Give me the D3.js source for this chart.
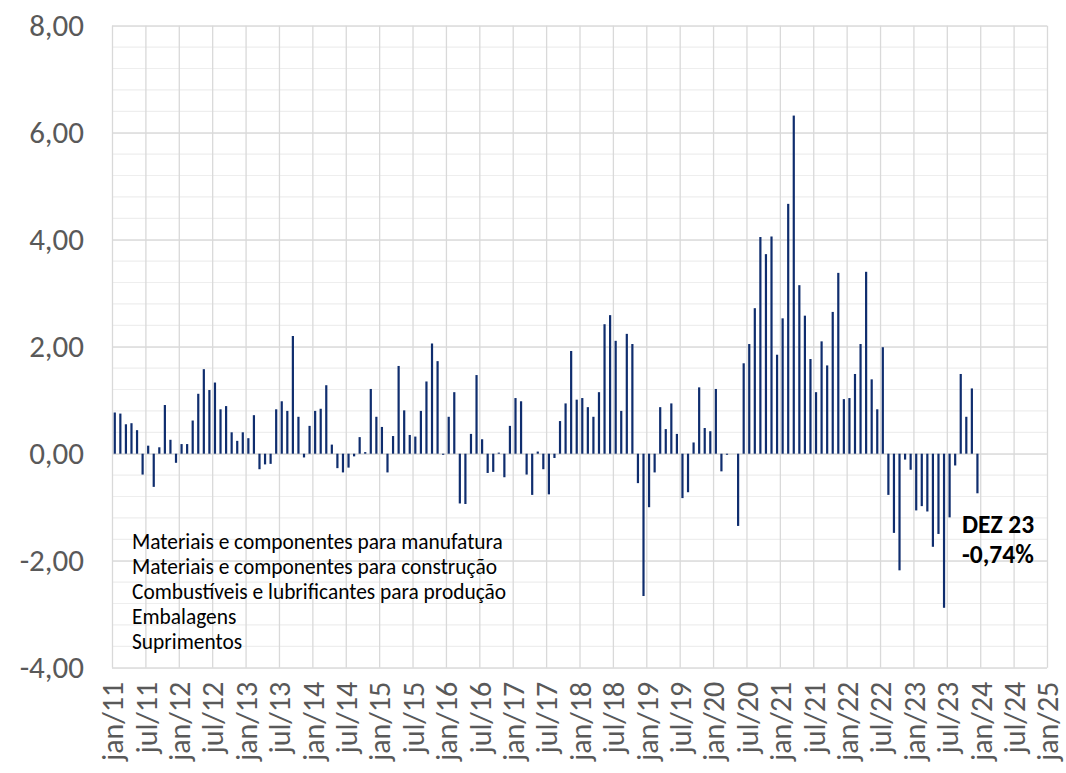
<!DOCTYPE html>
<html>
<head>
<meta charset="utf-8">
<script src="https://cdn.jsdelivr.net/npm/d3@7"></script>
<style>
  body { margin: 0; background: #fff; }
  svg { display: block; }
</style>
</head>
<body>
<div id="chart"></div>
<script>
// Monthly variation (%), jan/11 .. dez/23
var values2011 = [0.77, 0.75, 0.55, 0.57, 0.44, -0.39, 0.15, -0.62, 0.12, 0.91, 0.26, -0.17];
var values2012 = [0.18, 0.18, 0.62, 1.12, 1.58, 1.19, 1.33, 0.83, 0.89, 0.40, 0.24, 0.40];
var values2013 = [0.29, 0.72, -0.29, -0.20, -0.19, 0.83, 0.98, 0.80, 2.20, 0.69, -0.07, 0.52];
var values2014 = [0.80, 0.84, 1.28, 0.17, -0.27, -0.35, -0.26, -0.05, 0.31, 0.03, 1.21, 0.69];
var values2015 = [0.50, -0.35, 0.33, 1.64, 0.81, 0.35, 0.32, 0.80, 1.35, 2.06, 1.73, -0.02];
var values2016 = [0.69, 1.15, -0.93, -0.94, 0.37, 1.47, 0.27, -0.36, -0.34, 0.02, -0.44, 0.52];
var values2017 = [1.04, 0.98, -0.39, -0.77, 0.04, -0.29, -0.76, -0.08, 0.61, 0.94, 1.92, 1.01];
var values2018 = [1.04, 0.87, 0.69, 1.15, 2.42, 2.59, 2.11, 0.80, 2.24, 2.05, -0.55, -2.66];
var values2019 = [-1.00, -0.35, 0.87, 0.46, 0.94, 0.37, -0.83, -0.72, 0.21, 1.24, 0.48, 0.42];
var values2020 = [1.21, -0.33, -0.02, 0.00, -1.35, 1.69, 2.05, 2.72, 4.05, 3.73, 4.06, 1.85];
var values2021 = [2.53, 4.67, 6.32, 3.15, 2.58, 1.77, 1.15, 2.10, 1.65, 2.65, 3.38, 1.02];
var values2022 = [1.04, 1.49, 2.05, 3.40, 1.39, 0.83, 1.99, -0.77, -1.48, -2.18, -0.11, -0.30];
var values2023 = [-1.06, -0.98, -1.08, -1.74, -1.50, -2.88, -1.19, -0.22, 1.49, 0.69, 1.22, -0.74];

// Axis tick labels
var xTickLabels = ["jan/11","jul/11","jan/12","jul/12","jan/13","jul/13","jan/14","jul/14",
                   "jan/15","jul/15","jan/16","jul/16","jan/17","jul/17","jan/18","jul/18",
                   "jan/19","jul/19","jan/20","jul/20","jan/21","jul/21","jan/22","jul/22",
                   "jan/23","jul/23","jan/24","jul/24","jan/25"];
var yTicks = [-4, -2, 0, 2, 4, 6, 8];

// Legend lines and annotation
var legendLines = ["Materiais e componentes para manufatura",
                   "Materiais e componentes para construção",
                   "Combustíveis e lubrificantes para produção",
                   "Embalagens",
                   "Suprimentos"];
var noteLines = ["DEZ 23", "-0,74%"];

var values = [].concat(values2011, values2012, values2013, values2014, values2015, values2016,
                       values2017, values2018, values2019, values2020, values2021, values2022, values2023);

var width = 1066, height = 773;
var font = "Carlito, Calibri, 'Open Sans', sans-serif";

var svg = d3.select("#chart").append("svg")
    .attr("width", width)
    .attr("height", height);

// Scales: month index on x (jan/11 .. jan/25), percent on y
var xScale = d3.scaleLinear().domain([0, 168]).range([112, 1047]);
var yScale = d3.scaleLinear().domain([-4, 8]).range([667.7, 25.7]);

// Minor horizontal gridlines
svg.append("g")
    .selectAll("line")
    .data(d3.range(-4, 8.001, 0.4))
    .enter().append("line")
        .attr("x1", xScale(0))
        .attr("x2", xScale(168))
        .attr("y1", function(d) { return yScale(d); })
        .attr("y2", function(d) { return yScale(d); })
        .attr("stroke", "#eeeeee")
        .attr("stroke-width", 1.2);

// Vertical gridlines every six months
var xAxis = d3.axisBottom(xScale)
    .tickValues(d3.range(0, 169, 6))
    .tickSize(-(yScale(-4) - yScale(8)))
    .tickFormat(function(d, i) { return xTickLabels[i]; });

var gx = svg.append("g")
    .attr("transform", "translate(0," + yScale(-4) + ")")
    .call(xAxis);
gx.select(".domain").remove();
gx.selectAll(".tick line")
    .attr("stroke", "#d9d9d9")
    .attr("stroke-width", 1.3);
gx.selectAll(".tick text")
    .attr("font-family", font)
    .attr("font-size", "30px")
    .attr("fill", "#595959")
    .attr("text-anchor", "end")
    .attr("transform", "rotate(-90)")
    .attr("x", -14)
    .attr("y", 0)
    .attr("dy", "0.36em");

// Major horizontal gridlines with labels
var yAxis = d3.axisLeft(yScale)
    .tickValues(yTicks)
    .tickSize(-(xScale(168) - xScale(0)))
    .tickFormat(function(d) { return d3.format(".2f")(d).replace(".", ",").replace("\u2212", "-"); });

var gy = svg.append("g")
    .attr("transform", "translate(" + xScale(0) + ",0)")
    .call(yAxis);
gy.select(".domain").remove();
gy.selectAll(".tick line")
    .attr("stroke", "#d9d9d9")
    .attr("stroke-width", 1.3);
gy.selectAll(".tick text")
    .attr("font-family", font)
    .attr("font-size", "31px")
    .attr("fill", "#595959")
    .attr("x", -28);

// Bars
svg.append("g")
    .selectAll("rect")
    .data(values)
    .enter().append("rect")
        .attr("x", function(d, i) { return xScale(i + 0.5) - 1.1; })
        .attr("width", 2.2)
        .attr("y", function(d) { return yScale(Math.max(0, d)); })
        .attr("height", function(d) { return Math.abs(yScale(d) - yScale(0)); })
        .attr("fill", "#0f2d6e");

// Legend text
svg.append("g")
    .selectAll("text")
    .data(legendLines)
    .enter().append("text")
        .attr("x", 132)
        .attr("y", function(d, i) { return 549 + i * 25; })
        .attr("font-family", font)
        .attr("font-size", "21.4px")
        .attr("fill", "#000")
        .text(function(d) { return d; });

// Annotation for the last month
svg.append("g")
    .selectAll("text")
    .data(noteLines)
    .enter().append("text")
        .attr("x", 962)
        .attr("y", function(d, i) { return 533 + i * 30; })
        .attr("font-family", font)
        .attr("font-size", "25.5px")
        .attr("font-weight", "bold")
        .attr("fill", "#000")
        .text(function(d) { return d; });
</script>
</body>
</html>
